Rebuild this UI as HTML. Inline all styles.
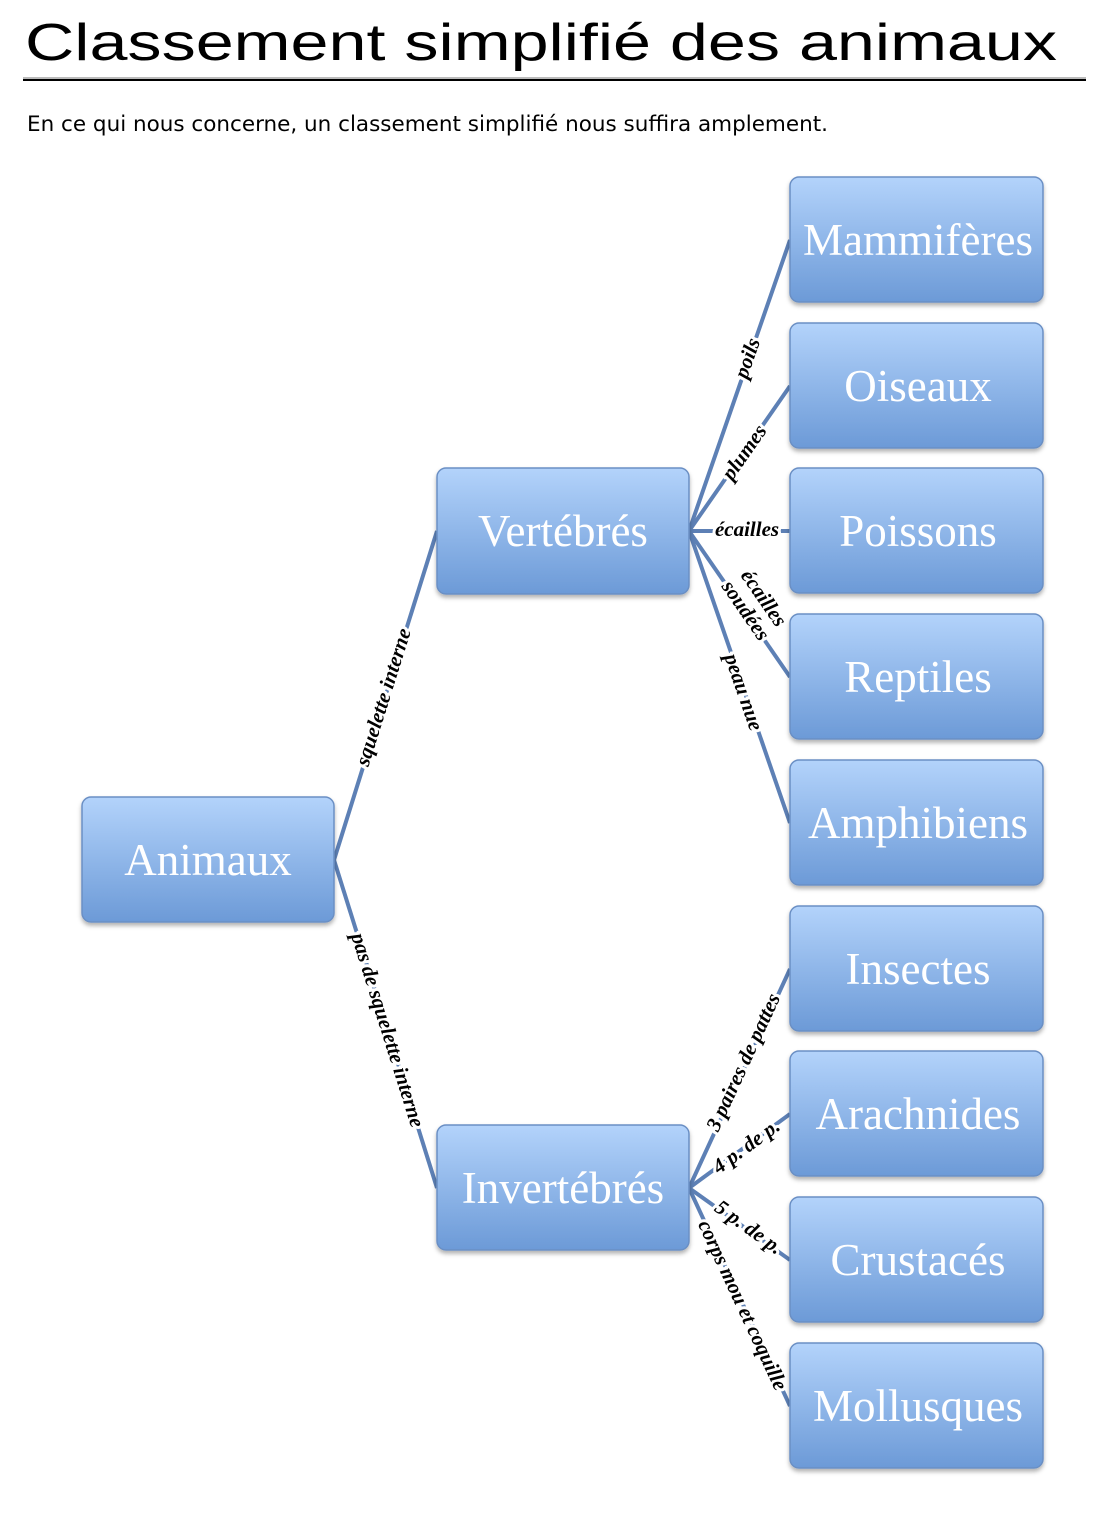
<!DOCTYPE html>
<html><head><meta charset="utf-8"><style>
html,body{margin:0;padding:0;background:#fff;}
svg{display:block;}
.b{font-family:"Liberation Serif",serif;font-size:45px;fill:#fff;text-anchor:middle;dominant-baseline:central;}
.l{font-family:"Liberation Serif",serif;font-style:italic;font-weight:bold;font-size:21px;fill:#000;text-anchor:middle;dominant-baseline:central;paint-order:stroke;stroke:#fff;stroke-width:6px;}
.c{stroke:#5d80b5;stroke-width:4;fill:none;}
</style></head><body>
<svg width="1116" height="1522" viewBox="0 0 1116 1522" xmlns="http://www.w3.org/2000/svg">
<defs>
<linearGradient id="g" x1="0" y1="0" x2="0" y2="1">
<stop offset="0" stop-color="#b3d3fb"/><stop offset="1" stop-color="#6c9ad7"/>
</linearGradient>
<filter id="s" x="-10%" y="-10%" width="120%" height="130%"><feDropShadow dx="0" dy="3" stdDeviation="2" flood-color="#000" flood-opacity="0.3"/></filter>
</defs>
<text x="25" y="60" font-family="'Liberation Sans',sans-serif" font-size="52" textLength="1032" lengthAdjust="spacingAndGlyphs">Classement simplifié des animaux</text>
<rect x="23" y="77" width="1063" height="2" fill="#bbb"/>
<rect x="23" y="79" width="1063" height="2" fill="#000"/>
<text x="27" y="131" font-family="'DejaVu Sans',sans-serif" font-size="21" textLength="801" lengthAdjust="spacingAndGlyphs">En ce qui nous concerne, un classement simplifié nous suffira amplement.</text>

<g class="c">
<line x1="334" y1="860" x2="437" y2="531"/>
<line x1="334" y1="860" x2="437" y2="1188"/>
<line x1="689" y1="531" x2="790" y2="240"/>
<line x1="689" y1="531" x2="790" y2="386"/>
<line x1="689" y1="531" x2="790" y2="531"/>
<line x1="689" y1="531" x2="790" y2="677"/>
<line x1="689" y1="531" x2="790" y2="823"/>
<line x1="689" y1="1188" x2="790" y2="969"/>
<line x1="689" y1="1188" x2="790" y2="1114"/>
<line x1="689" y1="1188" x2="790" y2="1260"/>
<line x1="689" y1="1188" x2="790" y2="1406"/>
</g>

<text class="l" transform="translate(383,697) rotate(-72.6)">squelette interne</text>
<text class="l" transform="translate(388,1030) rotate(72.6)">pas de squelette interne</text>
<text class="l" transform="translate(747,358) rotate(-70.9)">poils</text>
<text class="l" transform="translate(744,452) rotate(-55.1)">plumes</text>
<text class="l" transform="translate(747,529)">écailles</text>
<text class="l" transform="translate(755,604) rotate(55.3)"><tspan x="0" dy="-11">écailles</tspan><tspan x="0" dy="22">soudées</tspan></text>
<text class="l" transform="translate(744,692) rotate(70.9)">peau nue</text>
<text class="l" transform="translate(743,1062) rotate(-65.2)">3 paires de pattes</text>
<text class="l" transform="translate(746,1146) rotate(-36.2)">4 p. de p.</text>
<text class="l" transform="translate(749,1227) rotate(35.5)">5 p. de p.</text>
<text class="l" transform="translate(743,1305) rotate(65.1)">corps mou et coquille</text>

<g filter="url(#s)" fill="url(#g)" stroke="#6b8fc4" stroke-width="1.5">
<rect x="82" y="797" width="252" height="125" rx="9"/>
<rect x="437" y="468" width="252" height="126" rx="9"/>
<rect x="437" y="1125" width="252" height="125" rx="9"/>
<rect x="790" y="177" width="253" height="125" rx="9"/>
<rect x="790" y="323" width="253" height="125" rx="9"/>
<rect x="790" y="468" width="253" height="125" rx="9"/>
<rect x="790" y="614" width="253" height="125" rx="9"/>
<rect x="790" y="760" width="253" height="125" rx="9"/>
<rect x="790" y="906" width="253" height="125" rx="9"/>
<rect x="790" y="1051" width="253" height="125" rx="9"/>
<rect x="790" y="1197" width="253" height="125" rx="9"/>
<rect x="790" y="1343" width="253" height="125" rx="9"/>
</g>
<text class="b" x="208" y="860">Animaux</text>
<text class="b" x="563" y="531">Vertébrés</text>
<text class="b" x="563" y="1188">Invertébrés</text>
<text class="b" x="918" y="240">Mammifères</text>
<text class="b" x="918" y="386">Oiseaux</text>
<text class="b" x="918" y="531">Poissons</text>
<text class="b" x="918" y="677">Reptiles</text>
<text class="b" x="918" y="823">Amphibiens</text>
<text class="b" x="918" y="969">Insectes</text>
<text class="b" x="918" y="1114">Arachnides</text>
<text class="b" x="918" y="1260">Crustacés</text>
<text class="b" x="918" y="1406">Mollusques</text>
</svg>
</body></html>
